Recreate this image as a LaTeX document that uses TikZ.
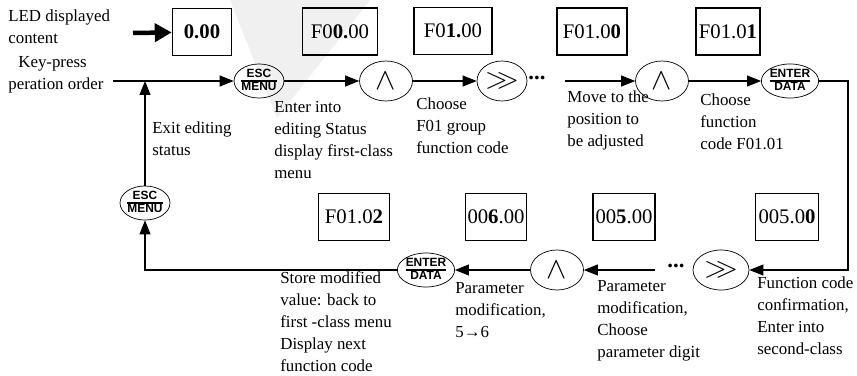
\documentclass[tikz,border=0pt]{standalone}
\usepackage{fontspec}
\setmainfont{Liberation Serif}
\newfontfamily\keyfont{Liberation Sans}
\usetikzlibrary{shapes.geometric, positioning, arrows.meta}

\newcommand{\keycap}[2]{{\keyfont\bfseries\fontsize{6.8}{7}\selectfont\setlength{\arrayrulewidth}{1pt}\renewcommand{\arraystretch}{0.78}\begin{tabular}{@{}c@{}}#1\\\hline #2\end{tabular}}}

\begin{document}
\begin{tikzpicture}[x=0.02cm, y=-0.02cm,
        lcd/.style={rectangle, draw, line width=0.9pt, inner sep=0pt, minimum height=0.94cm, font=\fontsize{11.8}{13}\selectfont},
        keybtn/.style={ellipse, draw, thin, inner sep=0pt, minimum width=1.0cm, minimum height=0.68cm},
        arrowbtn/.style={ellipse, draw, thin, inner sep=0pt, minimum width=1.06cm, minimum height=0.8cm, font=\LARGE},
        more/.style={inner sep=0pt, font=\fontsize{13}{13}\selectfont\bfseries},
        note/.style={anchor=west, align=left, inner sep=0pt, font=\fontsize{9.6}{12.5}\selectfont},
        flow/.style={-{Triangle[length=0.28cm, width=0.22cm]}, semithick}
    ]
%
    \useasboundingbox (0,0) rectangle (857,375);
    % Watermark
    \fill[gray!12] (230,0) -- (370,0) -- (277,118) -- cycle;
%
    % Top row
    \node[note] (ledtxt) at (8,27) {LED displayed\\content};
    \node[lcd, minimum width=1.18cm, font=\fontsize{11.8}{13}\selectfont\bfseries] (d0) at (202,32) {0.00};
    \coordinate (ledarr) at (133,33);
    \node[note] (keytxt) at (8,75) {\hspace*{0.2cm}Key-press\\peration order};
    \coordinate (start) at (113,81);
    \coordinate (join) at (145,81);
    \node[keybtn] (esc1) at (259,81) {\keycap{ESC}{MENU}};
    \node[arrowbtn] (up1) at (386,81) {$\wedge$};
    \node[arrowbtn, minimum width=1.0cm] (sh1) at (502,81) {$>\mkern-7mu>$};
    \node[more] (dots1) at (537,78) {...};
    \coordinate (gap1) at (565,81);
    \node[arrowbtn] (up2) at (662,81) {$\wedge$};
    \node[keybtn, minimum width=1.1cm] (ent1) at (790,81) {\keycap{ENTER}{DATA}};
    \coordinate (rc) at (848,270);
%
    \node[lcd, minimum width=1.5cm] (f0000) at (340,31.5) {F0\textbf{0.}00};
    \node[lcd, minimum width=1.56cm] (f0100) at (453,31) {F0\textbf{1.}00};
    \node[lcd, minimum width=1.4cm] (f0100b) at (592,31.5) {F01.0\textbf{0}};
    \node[lcd, minimum width=1.28cm] (f0101) at (728,31.5) {F01.0\textbf{1}};
%
    % Bottom row
    \node[arrowbtn, minimum width=1.12cm] (sh2) at (721,270) {$>\mkern-7mu>$};
    \node[more] (dots2) at (676,266) {...};
    \coordinate (gap2) at (655,270);
    \node[arrowbtn] (up3) at (557,270) {$\wedge$};
    \node[keybtn, minimum width=1.06cm] (ent2) at (426,270) {\keycap{ENTER}{DATA}};
    \node[keybtn] (esc2) at (145,203) {\keycap{ESC}{MENU}};
%
    \node[lcd, minimum width=1.42cm] (f0102) at (354,217) {F01.0\textbf{2}};
    \node[lcd, minimum width=1.22cm] (p600) at (496,217) {00\textbf{6}.00};
    \node[lcd, minimum width=1.24cm] (p500) at (624,217) {00\textbf{5}.00};
    \node[lcd, minimum width=1.26cm] (p500b) at (787,217) {005.0\textbf{0}};
%
    % Labels
    \node[note] (lexit) at (152,139) {Exit editing\\status};
    \node[note] (lenter) at (274,140) {Enter into\\editing Status\\display first-class\\menu};
    \node[note] (lgroup) at (416,126) {Choose\\F01 group\\function code};
    \node[note] (lmove) at (567,120) {Move to the\\position to\\be adjusted};
    \node[note] (lcode) at (700,122) {Choose\\function\\code F01.01};
    \node[note] (lstore) at (280,322) {Store modified\\value: back to\\first -class menu\\Display next\\function code};
    \node[note] (lmod) at (455,310) {Parameter\\modification,\\5→6};
    \node[note] (ldigit) at (597,321) {Parameter\\modification,\\Choose\\parameter digit};
    \node[note] (lconf) at (757,316) {Function code\\confirmation,\\Enter into\\second-class};
%
    % Arrows
    \draw[line width=0.09cm, -{Triangle[length=0.34cm, width=0.36cm]}] (ledarr) -- (d0);
    \draw[flow] (start) -- (esc1);
    \draw[flow] (esc1) -- (up1);
    \draw[flow] (up1) -- (sh1);
    \draw[flow] (gap1) -- (up2);
    \draw[flow] (up2) -- (ent1);
    \draw[flow] (ent1) -| (rc) -- (sh2);
    \draw[flow] (gap2) -- (up3);
    \draw[flow] (up3) -- (ent2);
    \draw[flow] (ent2) -| (esc2);
    \draw[flow] (esc2) -- (join);
%
\end{tikzpicture}
\end{document}
